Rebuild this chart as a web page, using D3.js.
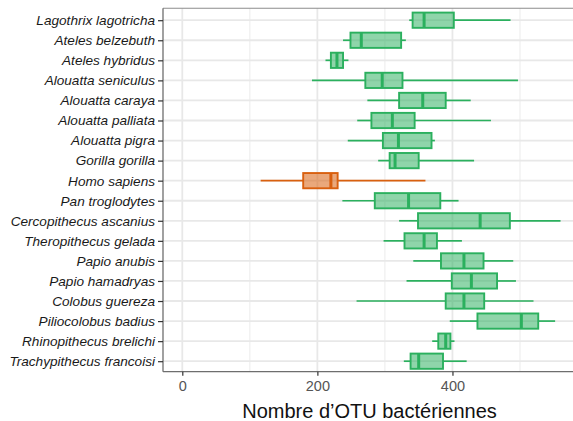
<!DOCTYPE html>
<html><head><meta charset="utf-8">
<script src="https://cdn.jsdelivr.net/npm/d3@7"></script>
<style>body{margin:0;background:#fff}svg{display:block}</style>
</head><body>
<svg id="c" width="573" height="421"></svg>
<script>
const species = ["Lagothrix lagotricha","Ateles belzebuth","Ateles hybridus","Alouatta seniculus","Alouatta caraya","Alouatta palliata","Alouatta pigra","Gorilla gorilla","Homo sapiens","Pan troglodytes","Cercopithecus ascanius","Theropithecus gelada","Papio anubis","Papio hamadryas","Colobus guereza","Piliocolobus badius","Rhinopithecus brelichi","Trachypithecus francoisi"];
const whiskerLow = [336,238,212,192,274,259,245,290,116,237,321,298,342,332,258,396,370,328];
const q1 =        [341,249,220,271,321,280,297,307,179,285,349,329,383,399,390,437,379,338];
const median =    [358,265,229,296,356,311,320,315,220,335,441,358,417,428,417,502,390,350];
const q3 =        [402,324,238,326,390,344,369,350,230,382,485,377,446,466,447,527,397,386];
const whiskerHigh=[486,331,246,497,427,457,374,432,360,409,560,414,490,494,520,552,403,421];
const highlight = ["Homo sapiens"];
const xTicks = [0,200,400];
const xMinor = [100,300,500];
const xTitle = "Nombre d\u2019OTU bactériennes";

const svg = d3.select("#c");
const L = 163, R = 576, T = 8.3, B = 371.7;
const x = d3.scaleLinear().domain([0,500]).range([182.3,520]);
const y = d3.scalePoint().domain(species).range([20.2,361.2]);
const step = y.step();
const boxH = step*0.76;

const green = {stroke:"#2bb05e", fill:"rgba(43,176,94,0.53)"};
const orange = {stroke:"#d9600f", fill:"rgba(217,96,15,0.55)"};

// panel grid
const g = svg.append("g");
g.selectAll(".minor").data(xMinor).enter().append("line")
  .attr("x1",d=>x(d)).attr("x2",d=>x(d)).attr("y1",T).attr("y2",B)
  .attr("stroke","#ededed").attr("stroke-width",1.1);
g.selectAll(".major").data(xTicks).enter().append("line")
  .attr("x1",d=>x(d)).attr("x2",d=>x(d)).attr("y1",T).attr("y2",B)
  .attr("stroke","#e8e8e8").attr("stroke-width",1.8);
g.selectAll(".hg").data(species).enter().append("line")
  .attr("x1",L).attr("x2",R).attr("y1",d=>y(d)).attr("y2",d=>y(d))
  .attr("stroke","#e8e8e8").attr("stroke-width",1.8);

// boxes
const data = species.map((s,i)=>({s, lo:whiskerLow[i], q1:q1[i], med:median[i], q3:q3[i], hi:whiskerHigh[i], c: highlight.includes(s)?orange:green}));
const bx = svg.append("g").selectAll("g").data(data).enter().append("g");
bx.append("line").attr("x1",d=>x(d.lo)).attr("x2",d=>x(d.q1)).attr("y1",d=>y(d.s)).attr("y2",d=>y(d.s))
  .attr("stroke",d=>d.c.stroke).attr("stroke-width",1.7);
bx.append("line").attr("x1",d=>x(d.q3)).attr("x2",d=>x(d.hi)).attr("y1",d=>y(d.s)).attr("y2",d=>y(d.s))
  .attr("stroke",d=>d.c.stroke).attr("stroke-width",1.7);
bx.append("rect").attr("x",d=>x(d.q1)).attr("width",d=>x(d.q3)-x(d.q1))
  .attr("y",d=>y(d.s)-boxH/2).attr("height",boxH)
  .attr("fill",d=>d.c.fill).attr("stroke",d=>d.c.stroke).attr("stroke-width",1.9);
bx.append("line").attr("x1",d=>x(d.med)).attr("x2",d=>x(d.med)).attr("y1",d=>y(d.s)-boxH/2).attr("y2",d=>y(d.s)+boxH/2)
  .attr("stroke",d=>d.c.stroke).attr("stroke-width",3);

// border
svg.append("line").attr("x1",L).attr("x2",R).attr("y1",T).attr("y2",T).attr("stroke","#8c8c8c").attr("stroke-width",1.1);
svg.append("line").attr("x1",L).attr("x2",L).attr("y1",T).attr("y2",B).attr("stroke","#6e6e6e").attr("stroke-width",1.3);
svg.append("line").attr("x1",L).attr("x2",R).attr("y1",B).attr("y2",B).attr("stroke","#6e6e6e").attr("stroke-width",1.3);

// y axis labels
const ya = svg.append("g").attr("transform",`translate(${L},0)`).call(d3.axisLeft(y).tickSize(5).tickPadding(3));
ya.select(".domain").remove();
ya.selectAll(".tick line").attr("stroke","#333").attr("stroke-width",1.2);
ya.selectAll(".tick text").attr("fill","#1a1a1a").style("font-family","'Liberation Sans', Arial, sans-serif")
  .style("font-style","italic").style("font-size","13.6px");

// x axis
const xa = svg.append("g").attr("transform",`translate(0,${B})`).call(d3.axisBottom(x).tickValues(xTicks).tickSize(4).tickPadding(5));
xa.select(".domain").remove();
xa.selectAll(".tick line").attr("stroke","#333").attr("stroke-width",1.2);
xa.selectAll(".tick text").attr("fill","#555").style("font-family","'Liberation Sans', Arial, sans-serif").style("font-size","14.5px");

svg.append("text").attr("x",(L+R)/2).attr("y",418).attr("text-anchor","middle")
  .style("font-family","'Liberation Sans', Arial, sans-serif").style("font-size","20px").attr("fill","#111")
  .text(xTitle);
</script>
</body></html>
